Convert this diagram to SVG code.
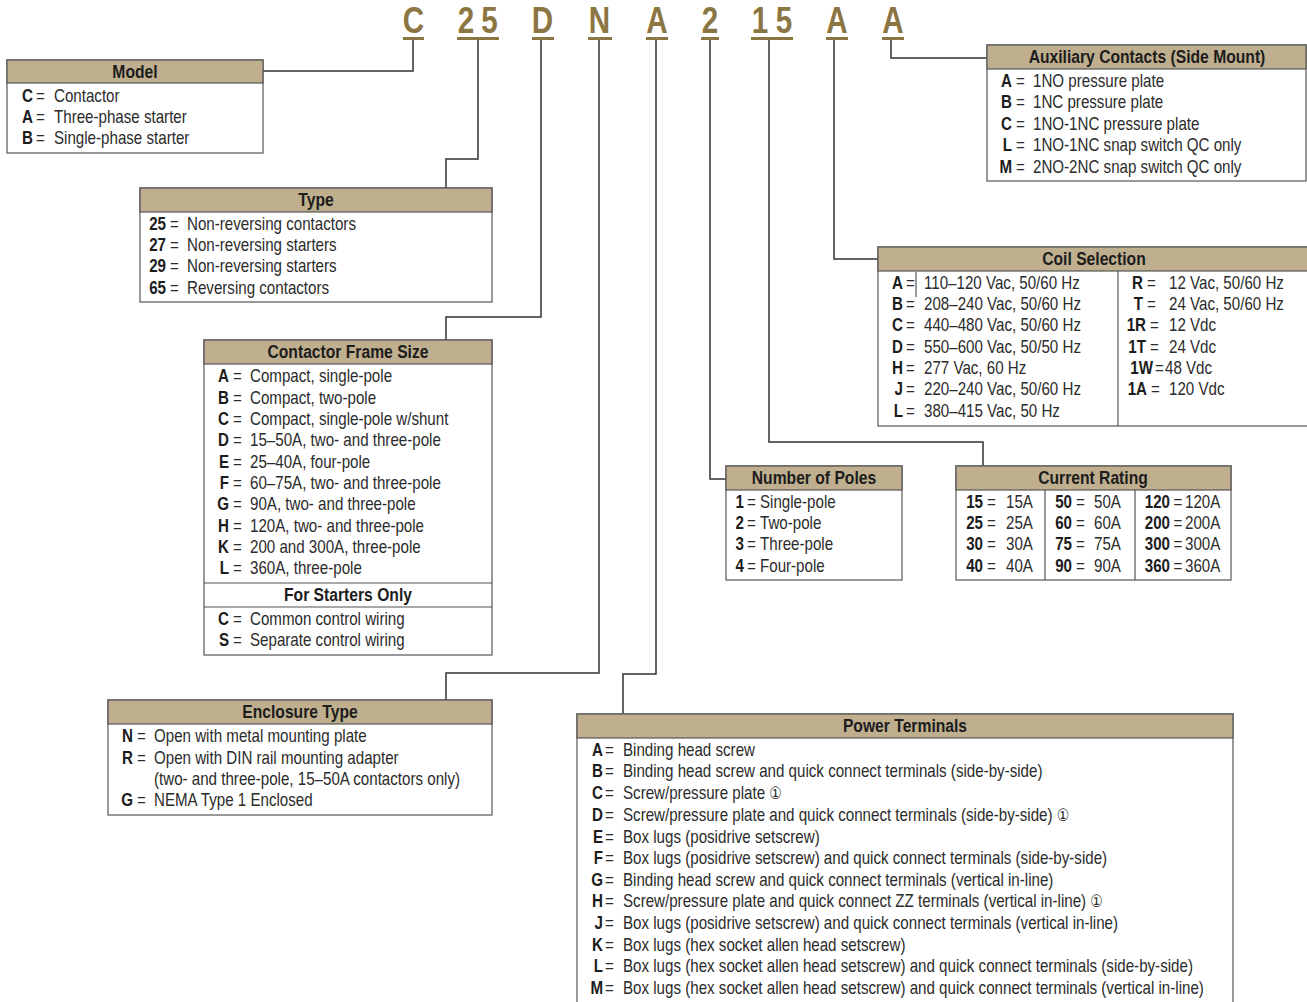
<svg xmlns="http://www.w3.org/2000/svg" width="1307" height="1002" viewBox="0 0 1307 1002">
<style>
text{font-family:"Liberation Sans",Arial,sans-serif;font-size:18.5px;fill:#2b2b2b}
.b{font-weight:bold;fill:#1c1c1c}
.e{text-anchor:end}
.h{font-weight:bold;text-anchor:middle;fill:#1c1c1c;font-size:17.6px}
.box{fill:#fff;stroke:#555;stroke-width:1.2}
.hdr{fill:#BFAF8F;stroke:#555;stroke-width:1.2}
.dv{stroke:#555;stroke-width:1.2}
.ln{fill:none;stroke:#333;stroke-width:1.5}
.code{font-size:37px;font-weight:bold;fill:#8B7542;text-anchor:middle}
.ul{fill:#8B7542}
.fn{font-family:"DejaVu Sans",sans-serif;font-size:17px}
</style>
<rect width="1307" height="1002" fill="#fff"/>
<g id="code">
<rect class="ul" x="403" y="37" width="21" height="3"/>
<rect class="ul" x="457" y="37" width="42" height="3"/>
<rect class="ul" x="532" y="37" width="22" height="3"/>
<rect class="ul" x="588" y="37" width="24" height="3"/>
<rect class="ul" x="646" y="37" width="22" height="3"/>
<rect class="ul" x="701" y="37" width="18" height="3"/>
<rect class="ul" x="751" y="37" width="42" height="3"/>
<rect class="ul" x="826" y="37" width="22" height="3"/>
<rect class="ul" x="882" y="37" width="22" height="3"/>
<g transform="scale(0.8,1)">
<text class="code" x="516.9" y="33">C</text>
<text class="code" x="582.5" y="33">2</text>
<text class="code" x="611.9" y="33">5</text>
<text class="code" x="678.1" y="33">D</text>
<text class="code" x="749.4" y="33">N</text>
<text class="code" x="821.25" y="33">A</text>
<text class="code" x="887.5" y="33">2</text>
<text class="code" x="950" y="33">1</text>
<text class="code" x="980" y="33">5</text>
<text class="code" x="1046.25" y="33">A</text>
<text class="code" x="1116.25" y="33">A</text>
</g>
</g>
<g id="connectors">
<path class="ln" d="M413,40 V71 H263"/>
<path class="ln" d="M478,40 V159 H446 V188"/>
<path class="ln" d="M541,40 V317 H446 V340"/>
<path class="ln" d="M599,40 V673 H446 V700"/>
<path class="ln" d="M656,40 V674 H623 V714"/>
<path class="ln" d="M710,40 V479 H726" stroke="#555"/>
<path class="ln" d="M769,40 V442 H983 V466"/>
<path class="ln" d="M834,40 V259 H878"/>
<path class="ln" d="M891,40 V58 H987"/>
</g>
<g id="model">
<rect class="box" x="7" y="60" width="256" height="93"/>
<rect class="hdr" x="7" y="60" width="256" height="23"/>
<g transform="scale(0.89,1)"><text class="h" x="151.69" y="78">Model</text></g>
<g transform="scale(0.818,1)">
<text class="b e" x="40.34" y="102">C</text><text x="44.01" y="102">=</text><text x="66.01" y="102">Contactor</text>
<text class="b e" x="40.34" y="123">A</text><text x="44.01" y="123">=</text><text x="66.01" y="123">Three-phase starter</text>
<text class="b e" x="40.34" y="144">B</text><text x="44.01" y="144">=</text><text x="66.01" y="144">Single-phase starter</text>
</g>
</g>
<g id="type">
<rect class="box" x="140" y="188" width="352" height="114"/>
<rect class="hdr" x="140" y="188" width="352" height="24"/>
<g transform="scale(0.89,1)"><text class="h" x="355.06" y="206">Type</text></g>
<g transform="scale(0.818,1)">
<text class="b e" x="202.93" y="230">25</text><text x="207.82" y="230">=</text><text x="228.61" y="230">Non-reversing contactors</text>
<text class="b e" x="202.93" y="251">27</text><text x="207.82" y="251">=</text><text x="228.61" y="251">Non-reversing starters</text>
<text class="b e" x="202.93" y="272">29</text><text x="207.82" y="272">=</text><text x="228.61" y="272">Non-reversing starters</text>
<text class="b e" x="202.93" y="294">65</text><text x="207.82" y="294">=</text><text x="228.61" y="294">Reversing contactors</text>
</g>
</g>
<g id="frame">
<rect class="box" x="204" y="340" width="288" height="315"/>
<rect class="hdr" x="204" y="340" width="288" height="24"/>
<line class="dv" x1="204" y1="583" x2="492" y2="583"/>
<line class="dv" x1="204" y1="607" x2="492" y2="607"/>
<g transform="scale(0.89,1)">
<text class="h" x="391.01" y="358">Contactor Frame Size</text>
<text class="h" x="391.01" y="601">For Starters Only</text>
</g>
<g transform="scale(0.818,1)">
<text class="b e" x="279.95" y="382">A</text><text x="284.84" y="382">=</text><text x="305.62" y="382">Compact, single-pole</text>
<text class="b e" x="279.95" y="404">B</text><text x="284.84" y="404">=</text><text x="305.62" y="404">Compact, two-pole</text>
<text class="b e" x="279.95" y="425">C</text><text x="284.84" y="425">=</text><text x="305.62" y="425">Compact, single-pole w/shunt</text>
<text class="b e" x="279.95" y="446">D</text><text x="284.84" y="446">=</text><text x="305.62" y="446">15–50A, two- and three-pole</text>
<text class="b e" x="279.95" y="468">E</text><text x="284.84" y="468">=</text><text x="305.62" y="468">25–40A, four-pole</text>
<text class="b e" x="279.95" y="489">F</text><text x="284.84" y="489">=</text><text x="305.62" y="489">60–75A, two- and three-pole</text>
<text class="b e" x="279.95" y="510">G</text><text x="284.84" y="510">=</text><text x="305.62" y="510">90A, two- and three-pole</text>
<text class="b e" x="279.95" y="532">H</text><text x="284.84" y="532">=</text><text x="305.62" y="532">120A, two- and three-pole</text>
<text class="b e" x="279.95" y="553">K</text><text x="284.84" y="553">=</text><text x="305.62" y="553">200 and 300A, three-pole</text>
<text class="b e" x="279.95" y="574">L</text><text x="284.84" y="574">=</text><text x="305.62" y="574">360A, three-pole</text>
<text class="b e" x="279.95" y="625">C</text><text x="284.84" y="625">=</text><text x="305.62" y="625">Common control wiring</text>
<text class="b e" x="279.95" y="646">S</text><text x="284.84" y="646">=</text><text x="305.62" y="646">Separate control wiring</text>
</g>
</g>
<g id="enclosure">
<rect class="box" x="108" y="700" width="384" height="115"/>
<rect class="hdr" x="108" y="700" width="384" height="24"/>
<g transform="scale(0.89,1)"><text class="h" x="337.08" y="718">Enclosure Type</text></g>
<g transform="scale(0.818,1)">
<text class="b e" x="162.59" y="742">N</text><text x="167.48" y="742">=</text><text x="188.26" y="742">Open with metal mounting plate</text>
<text class="b e" x="162.59" y="764">R</text><text x="167.48" y="764">=</text><text x="188.26" y="764">Open with DIN rail mounting adapter</text>
<text x="188.26" y="785">(two- and three-pole, 15–50A contactors only)</text>
<text class="b e" x="162.59" y="806">G</text><text x="167.48" y="806">=</text><text x="188.26" y="806">NEMA Type 1 Enclosed</text>
</g>
</g>
<g id="power">
<rect class="box" x="577" y="714" width="656" height="300"/>
<rect class="hdr" x="577" y="714" width="656" height="24"/>
<g transform="scale(0.89,1)"><text class="h" x="1016.85" y="732">Power Terminals</text></g>
<g transform="scale(0.818,1)">
<text class="b e" x="737.16" y="756">A</text><text x="739.61" y="756">=</text><text x="761.61" y="756">Binding head screw</text>
<text class="b e" x="737.16" y="777">B</text><text x="739.61" y="777">=</text><text x="761.61" y="777">Binding head screw and quick connect terminals (side-by-side)</text>
<text class="b e" x="737.16" y="799">C</text><text x="739.61" y="799">=</text><text x="761.61" y="799">Screw/pressure plate <tspan class="fn">①</tspan></text>
<text class="b e" x="737.16" y="821">D</text><text x="739.61" y="821">=</text><text x="761.61" y="821">Screw/pressure plate and quick connect terminals (side-by-side) <tspan class="fn">①</tspan></text>
<text class="b e" x="737.16" y="843">E</text><text x="739.61" y="843">=</text><text x="761.61" y="843">Box lugs (posidrive setscrew)</text>
<text class="b e" x="737.16" y="864">F</text><text x="739.61" y="864">=</text><text x="761.61" y="864">Box lugs (posidrive setscrew) and quick connect terminals (side-by-side)</text>
<text class="b e" x="737.16" y="886">G</text><text x="739.61" y="886">=</text><text x="761.61" y="886">Binding head screw and quick connect terminals (vertical in-line)</text>
<text class="b e" x="737.16" y="907">H</text><text x="739.61" y="907">=</text><text x="761.61" y="907">Screw/pressure plate and quick connect ZZ terminals (vertical in-line) <tspan class="fn">①</tspan></text>
<text class="b e" x="737.16" y="929">J</text><text x="739.61" y="929">=</text><text x="761.61" y="929">Box lugs (posidrive setscrew) and quick connect terminals (vertical in-line)</text>
<text class="b e" x="737.16" y="951">K</text><text x="739.61" y="951">=</text><text x="761.61" y="951">Box lugs (hex socket allen head setscrew)</text>
<text class="b e" x="737.16" y="972">L</text><text x="739.61" y="972">=</text><text x="761.61" y="972">Box lugs (hex socket allen head setscrew) and quick connect terminals (side-by-side)</text>
<text class="b e" x="737.16" y="994">M</text><text x="739.61" y="994">=</text><text x="761.61" y="994">Box lugs (hex socket allen head setscrew) and quick connect terminals (vertical in-line)</text>
</g>
</g>
<g id="poles">
<rect class="box" x="726" y="466" width="176" height="114"/>
<rect class="hdr" x="726" y="466" width="176" height="24"/>
<g transform="scale(0.89,1)"><text class="h" x="914.61" y="484">Number of Poles</text></g>
<g transform="scale(0.818,1)">
<text class="b e" x="909.53" y="508">1</text><text x="913.2" y="508">=</text><text x="929.09" y="508">Single-pole</text>
<text class="b e" x="909.53" y="529">2</text><text x="913.2" y="529">=</text><text x="929.09" y="529">Two-pole</text>
<text class="b e" x="909.53" y="550">3</text><text x="913.2" y="550">=</text><text x="929.09" y="550">Three-pole</text>
<text class="b e" x="909.53" y="572">4</text><text x="913.2" y="572">=</text><text x="929.09" y="572">Four-pole</text>
</g>
</g>
<g id="current">
<rect class="box" x="956" y="466" width="275" height="114"/>
<rect class="hdr" x="956" y="466" width="275" height="24"/>
<line class="dv" x1="1045" y1="490" x2="1045" y2="580"/>
<line class="dv" x1="1135" y1="490" x2="1135" y2="580"/>
<g transform="scale(0.89,1)"><text class="h" x="1228.09" y="484">Current Rating</text></g>
<g transform="scale(0.818,1)">
<text class="b e" x="1201.71" y="508">15</text><text x="1206.6" y="508">=</text><text x="1229.83" y="508">15A</text>
<text class="b e" x="1201.71" y="529">25</text><text x="1206.6" y="529">=</text><text x="1229.83" y="529">25A</text>
<text class="b e" x="1201.71" y="550">30</text><text x="1206.6" y="550">=</text><text x="1229.83" y="550">30A</text>
<text class="b e" x="1201.71" y="572">40</text><text x="1206.6" y="572">=</text><text x="1229.83" y="572">40A</text>
<text class="b e" x="1310.51" y="508">50</text><text x="1315.4" y="508">=</text><text x="1337.41" y="508">50A</text>
<text class="b e" x="1310.51" y="529">60</text><text x="1315.4" y="529">=</text><text x="1337.41" y="529">60A</text>
<text class="b e" x="1310.51" y="550">75</text><text x="1315.4" y="550">=</text><text x="1337.41" y="550">75A</text>
<text class="b e" x="1310.51" y="572">90</text><text x="1315.4" y="572">=</text><text x="1337.41" y="572">90A</text>
<text class="b e" x="1430.31" y="508">120</text><text x="1434.6" y="508">=</text><text x="1448.65" y="508">120A</text>
<text class="b e" x="1430.31" y="529">200</text><text x="1434.6" y="529">=</text><text x="1448.65" y="529">200A</text>
<text class="b e" x="1430.31" y="550">300</text><text x="1434.6" y="550">=</text><text x="1448.65" y="550">300A</text>
<text class="b e" x="1430.31" y="572">360</text><text x="1434.6" y="572">=</text><text x="1448.65" y="572">360A</text>
</g>
</g>
<g id="coil">
<rect class="box" x="878" y="247" width="435" height="179"/>
<rect class="hdr" x="878" y="247" width="435" height="24"/>
<line class="dv" x1="1118" y1="271" x2="1118" y2="426"/>
<line x1="916" y1="272" x2="916" y2="297" stroke="#333" stroke-width="1"/>
<g transform="scale(0.89,1)"><text class="h" x="1229.21" y="265">Coil Selection</text></g>
<g transform="scale(0.818,1)">
<text class="b e" x="1103.91" y="289">A</text><text x="1107.58" y="289">=</text><text x="1129.58" y="289">110–120 Vac, 50/60 Hz</text>
<text class="b e" x="1103.91" y="310">B</text><text x="1107.58" y="310">=</text><text x="1129.58" y="310">208–240 Vac, 50/60 Hz</text>
<text class="b e" x="1103.91" y="331">C</text><text x="1107.58" y="331">=</text><text x="1129.58" y="331">440–480 Vac, 50/60 Hz</text>
<text class="b e" x="1103.91" y="353">D</text><text x="1107.58" y="353">=</text><text x="1129.58" y="353">550–600 Vac, 50/50 Hz</text>
<text class="b e" x="1103.91" y="374">H</text><text x="1107.58" y="374">=</text><text x="1129.58" y="374">277 Vac, 60 Hz</text>
<text class="b e" x="1103.91" y="395">J</text><text x="1107.58" y="395">=</text><text x="1129.58" y="395">220–240 Vac, 50/60 Hz</text>
<text class="b e" x="1103.91" y="417">L</text><text x="1107.58" y="417">=</text><text x="1129.58" y="417">380–415 Vac, 50 Hz</text>
<text class="b e" x="1397.31" y="289">R</text><text x="1402.2" y="289">=</text><text x="1429.1" y="289">12 Vac, 50/60 Hz</text>
<text class="b e" x="1397.31" y="310">T</text><text x="1402.2" y="310">=</text><text x="1429.1" y="310">24 Vac, 50/60 Hz</text>
<text class="b e" x="1400.98" y="331">1R</text><text x="1405.87" y="331">=</text><text x="1429.1" y="331">12 Vdc</text>
<text class="b e" x="1400.98" y="353">1T</text><text x="1405.87" y="353">=</text><text x="1429.1" y="353">24 Vdc</text>
<text class="b e" x="1409.53" y="374">1W</text><text x="1411.98" y="374">=</text><text x="1424.2" y="374">48 Vdc</text>
<text class="b e" x="1402.2" y="395">1A</text><text x="1407.09" y="395">=</text><text x="1429.1" y="395">120 Vdc</text>
</g>
</g>
<g id="aux">
<rect class="box" x="987" y="45" width="319" height="136"/>
<rect class="hdr" x="987" y="45" width="319" height="24"/>
<g transform="scale(0.89,1)"><text class="h" x="1288.76" y="63">Auxiliary Contacts (Side Mount)</text></g>
<g transform="scale(0.818,1)">
<text class="b e" x="1237.16" y="87">A</text><text x="1242.05" y="87">=</text><text x="1262.83" y="87">1NO pressure plate</text>
<text class="b e" x="1237.16" y="108">B</text><text x="1242.05" y="108">=</text><text x="1262.83" y="108">1NC pressure plate</text>
<text class="b e" x="1237.16" y="130">C</text><text x="1242.05" y="130">=</text><text x="1262.83" y="130">1NO-1NC pressure plate</text>
<text class="b e" x="1237.16" y="151">L</text><text x="1242.05" y="151">=</text><text x="1262.83" y="151">1NO-1NC snap switch QC only</text>
<text class="b e" x="1237.16" y="173">M</text><text x="1242.05" y="173">=</text><text x="1262.83" y="173">2NO-2NC snap switch QC only</text>
</g>
</g>
</svg>
